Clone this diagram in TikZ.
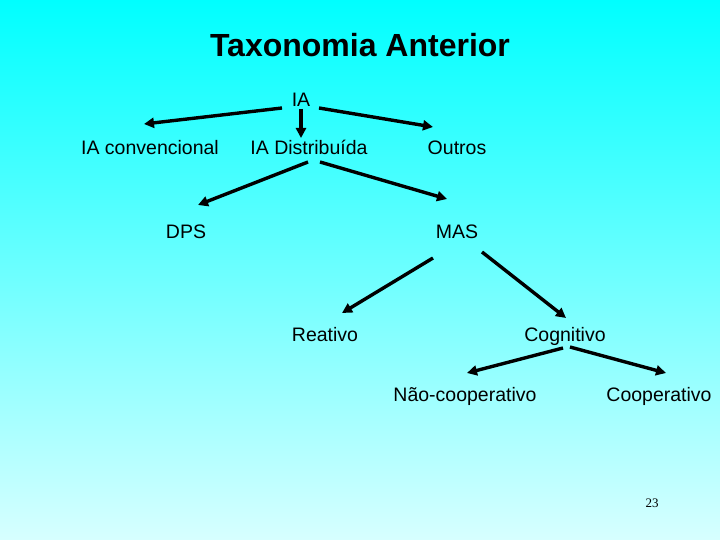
\documentclass[tikz,border=0pt]{standalone}
\usepackage{fontspec}
\setmainfont{Liberation Sans}
\newfontfamily\pagefont{Liberation Serif}
\usepackage{xcolor}
\usetikzlibrary{arrows.meta, calc}

\definecolor{bgtop}{RGB}{0,255,255}
\definecolor{bgbot}{RGB}{215,255,255}

\begin{document}
\begin{tikzpicture}[
        x=1pt, y=-1pt,
        every node/.style={align=center, inner sep=0pt},
        term/.style={font=\fontsize{19.5}{22}\selectfont, text height=14pt, text depth=0pt},
        heading/.style={font=\fontsize{32}{36}\selectfont\bfseries, text height=23pt, text depth=0pt},
        arr/.style={-{Triangle[length=10pt,width=10pt]}, line width=3.4pt, black}
    ]
    % background
    \shade[top color=bgtop, bottom color=bgbot] (0,0) rectangle (720,540);
    \useasboundingbox (0,0) rectangle (720,540);

    \node[heading] (title) at (360,45) {Taxonomia Anterior};

    \node[term] (ia) at (301,100) {IA};
    \node[term] (conv) at (150,148) {IA convencional};
    \node[term] (dist) at (309,148) {IA Distribuída};
    \node[term] (outros) at (457,148) {Outros};
    \node[term] (dps) at (186,232) {DPS};
    \node[term] (mas) at (457,232) {MAS};
    \node[term] (reat) at (325,334) {Reativo};
    \node[term] (cog) at (565,334) {Cognitivo};
    \node[term] (naocoop) at (465,394) {Não-cooperativo};
    \node[term] (coop) at (659,394) {Cooperativo};

    \node[font=\pagefont\fontsize{13}{15}\selectfont] (pg) at (652,503) {23};

    \draw[arr] ($(ia)+(-19,8)$) -- ($(conv)+(-6,-24)$);
    \draw[arr] ($(ia)+(0,9)$) -- ($(dist)+(-8,-10)$);
    \draw[arr] ($(ia)+(18,8)$) -- ($(outros)+(-24,-21)$);

    \draw[arr] ($(dist)+(-1,14)$) -- ($(dps)+(12,-27)$);
    \draw[arr] ($(dist)+(11,14)$) -- ($(mas)+(-10,-33)$);

    \draw[arr] ($(mas)+(-24,26)$) -- ($(reat)+(17,-21)$);
    \draw[arr] ($(mas)+(25,20)$) -- ($(cog)+(1,-16)$);

    \draw[arr] ($(cog)+(-2,14)$) -- ($(naocoop)+(2,-21)$);
    \draw[arr] ($(cog)+(5,13)$) -- ($(coop)+(7,-21)$);

\end{tikzpicture}
\end{document}
